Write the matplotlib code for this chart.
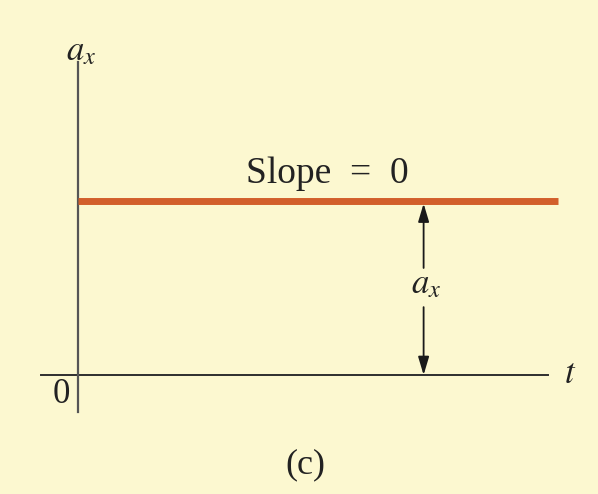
import matplotlib.pyplot as plt

# data: constant acceleration, so slope = 0
t = [0, 10]
a_x = [2, 2]
arrow_t = 7.2

plt.rcParams["font.family"] = ["Liberation Serif", "DejaVu Serif"]
plt.rcParams["mathtext.fontset"] = "stix"

bg = "#fcf8d0"
ink = "#222222"
fig = plt.figure(figsize=(5.98, 4.94), dpi=100, facecolor=bg)
ax = fig.add_axes([0, 0, 1, 1], facecolor=bg)
ax.set_xlim(-1.625, 10.833)
ax.set_ylim(-1.368, 4.31)
ax.axis("off")

# axes
ax.plot([-0.78, 9.79], [0, 0], color="#2e2e2e", lw=1.4)
ax.plot([0, 0], [-0.42, 3.60], color="#555555", lw=1.6)

# a_x = const line
ax.plot(t, a_x, color="#d25f2b", lw=5, solid_capstyle="butt")

# double arrow with label
arrow = dict(arrowstyle="-|>,head_length=1.1,head_width=0.33", color="#1a1a1a", lw=1.3,
             shrinkA=0, shrinkB=0)
ax.annotate("", xy=(arrow_t, a_x[0] - 0.03), xytext=(arrow_t, 1.23), arrowprops=arrow)
ax.annotate("", xy=(arrow_t, 0), xytext=(arrow_t, 0.78), arrowprops=arrow)
ax.text(6.94, 0.94, r"$a_x$", fontsize=25, ha="left", va="baseline", color=ink)

ax.text(5.19, 2.21, "Slope  =  0", fontsize=27, ha="center", va="baseline", color=ink)
ax.text(-0.25, 3.62, r"$a_x$", fontsize=25, ha="left", va="baseline", color=ink)
ax.text(10.25, -0.09, r"$t$", fontsize=25, ha="center", va="baseline", color=ink)
ax.text(-0.35, -0.22, "0", fontsize=25, ha="center", va="center", color=ink)
ax.text(4.73, -1.03, "(c)", fontsize=26, ha="center", va="center", color=ink)

fig.savefig("out.png", dpi=100, facecolor=bg)
